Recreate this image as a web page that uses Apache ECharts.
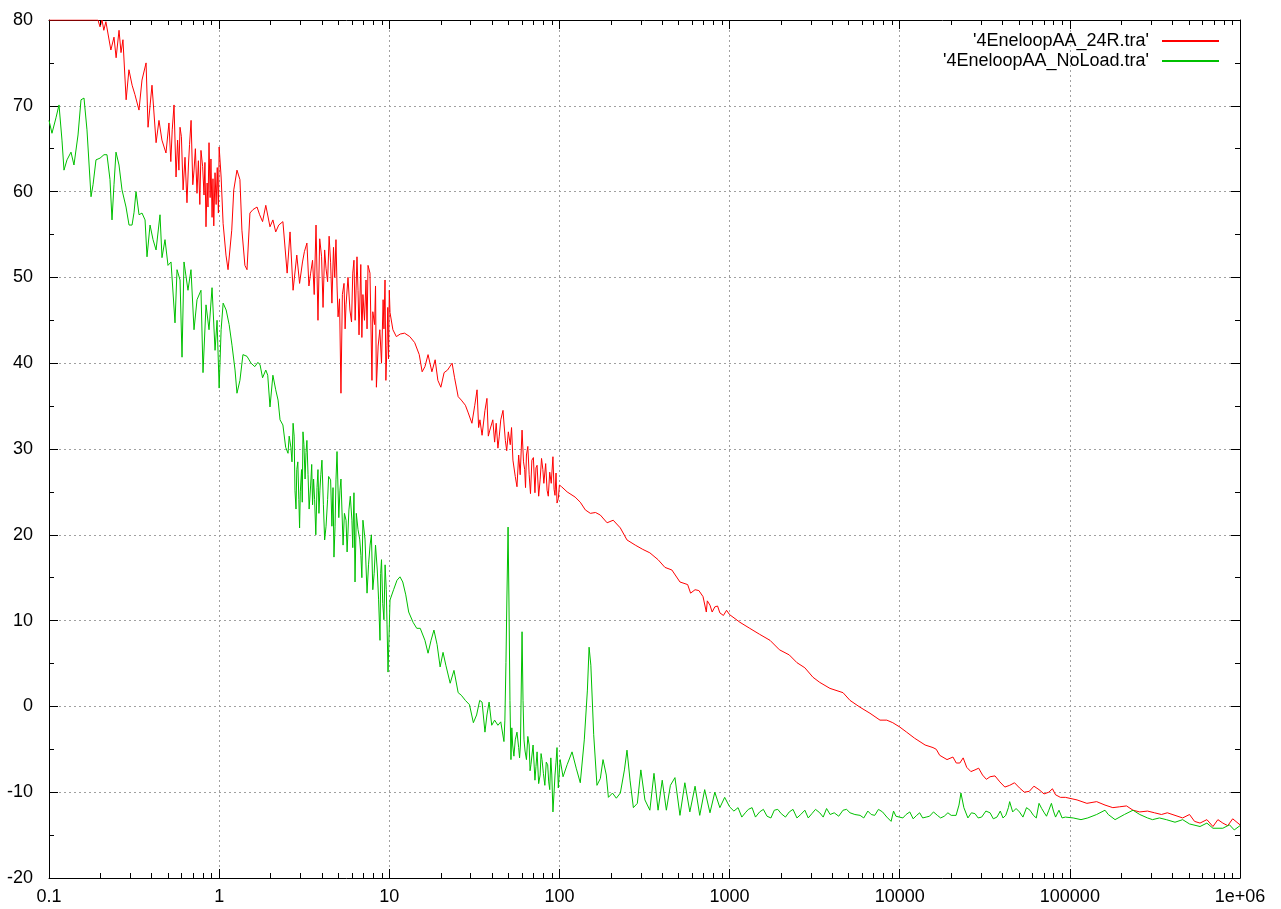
<!DOCTYPE html>
<html>
<head>
<meta charset="utf-8">
<style>
html,body{margin:0;padding:0;background:#fff;}
#chart{width:1281px;height:909px;}
</style>
<script src="https://cdn.jsdelivr.net/npm/echarts@6/dist/echarts.min.js"></script>
</head>
<body>
<div id="chart"></div>
<script>
// ---- data ----
const name24R = "'4EneloopAA_24R.tra'";
const nameNoLoad = "'4EneloopAA_NoLoad.tra'";

const freq24R = [
  0.1, 0.194, 0.1995, 0.205, 0.210, 0.216, 0.231, 0.241, 0.248, 0.258,
  0.265, 0.272, 0.284, 0.295, 0.308, 0.320, 0.338, 0.352, 0.372, 0.382,
  0.403, 0.426, 0.443, 0.461, 0.487, 0.507, 0.543, 0.558, 0.589, 0.614,
  0.647, 0.684, 0.712, 0.741, 0.782, 0.815, 0.837, 0.872, 0.909, 0.946,
  1.0, 1.027, 1.055, 1.097, 1.128, 1.186, 1.219, 1.273, 1.325, 1.361,
  1.417, 1.458, 1.517, 1.58, 1.67, 1.73, 1.80, 1.88, 1.99, 2.07,
  2.15, 2.24, 2.37, 2.51, 2.61, 2.72, 2.86, 2.97, 3.09, 3.28,
  3.45, 3.54, 3.71, 3.81, 4.0, 4.17, 4.34, 4.52, 4.70, 4.86,
  5.0, 5.20, 5.42, 5.57, 5.87, 6.20, 6.46, 6.64, 7.0, 7.3,
  7.5, 7.91, 8.2, 8.4, 8.8, 9.2, 9.44, 9.69,
  10.0, 10.1, 10.5, 11.0, 11.6, 12.3, 13.2, 14.1, 15.0, 15.6,
  16.2, 16.9, 17.8, 18.6, 19.3, 20.1, 21.0, 22.0, 23.4, 24.2,
  25.4, 26.5, 28.0, 29.0, 30.6, 31.8, 32.8, 34.1, 35.1, 36.5,
  37.5, 39.0, 40.6, 41.6, 43.5, 45.2, 46.6, 48.1, 50.1, 51.4,
  53.3, 56.3, 57.6, 60.3, 62.5, 64.0, 66.4, 68.9, 71.8, 73.9,
  77.0, 79.9, 84.6, 87.7, 91.6, 94.2, 96.8,
  100, 103, 111, 123.6, 132.6, 142, 152, 163, 174, 190.6,
  207, 228, 249.5, 279, 309, 340, 380, 417, 458, 511,
  567, 627, 698, 767, 819, 877,
  1000, 1151, 1314, 1502, 1729, 1963, 2243, 2488, 2770, 3090,
  3389, 3890, 4644, 5103, 5848, 6687, 7657, 8392, 9102,
  10000, 10980, 12216, 14100, 15690, 17180, 18970, 20550, 22560, 24760,
  27700, 30680, 33960, 38780, 44280, 50560, 57740, 65890, 75230, 82410,
  94100,
  110200, 125900, 143700, 160900, 178900, 196200, 215300, 235000, 257600, 286200,
  314300, 345300, 373900, 415000, 460200, 505000, 540500, 582100, 638800, 693400,
  741300, 792700, 847400, 905700, 1000000
];
const level24R = [
  80, 80, 79.2, 80, 78.8, 79.8, 76.5, 78.0, 75.6, 78.8,
  76.2, 77.7, 70.7, 74.2, 72.4, 71.3, 69.5, 73.0, 75.0, 67.5,
  72.4, 65.7, 68.3, 66.0, 64.5, 68.0, 70.1, 61.7, 67.5, 60.2,
  58.7, 68.3, 62.5, 59.8, 64.8, 59.6, 55.9, 65.7, 57.0, 62.2,
  65.2, 61.7, 56.3, 52.6, 50.9, 55.5, 60.2, 62.5, 61.4, 55.5,
  51.4, 50.9, 57.5, 57.9, 58.2, 57.3, 56.5, 58.4, 55.9, 56.7,
  55.3, 56.1, 56.5, 50.5, 55.3, 48.5, 52.6, 49.3, 51.8, 54.0,
  50.5, 52.0, 56.1, 45.0, 52.4, 53.2, 49.5, 51.7, 53.5, 54.4,
  45.4, 36.5, 49.3, 46.8, 46.2, 52.0, 52.4, 43.3, 48.0, 49.7,
  51.4, 38.0, 44.5, 37.2, 43.9, 47.4, 49.7, 42.1,
  48.5, 45.9, 43.9, 43.1, 43.4, 43.5, 43.1, 42.4, 41.0, 39.0,
  39.6, 41.0, 39.0, 40.4, 38.0, 37.2, 38.9, 39.2, 40.0, 38.3,
  36.1, 35.7, 35.1, 34.3, 33.0, 35.1, 36.9, 33.4, 31.6, 34.5,
  35.9, 32.2, 33.4, 30.8, 30.1, 33.4, 34.5, 31.0, 32.0, 30.5,
  28.7, 25.6, 29.3, 32.2, 27.6, 29.3, 27.0, 28.7, 24.9, 28.1,
  26.4, 27.6, 25.2, 27.3, 29.1, 24.6, 23.7,
  25.8, 25.6, 25.0, 24.4, 23.8, 22.9, 22.5, 22.6, 22.3, 21.4,
  21.7, 20.8, 19.4, 18.8, 18.3, 17.9, 17.1, 16.2, 15.9, 14.5,
  14.2, 13.6, 12.8, 11.8, 11.6, 10.9,
  10.7, 9.8, 9.1, 8.4, 7.7, 6.6, 6.0, 5.1, 4.5, 3.4,
  2.8, 2.1, 1.6, 0.7, -0.1, -0.8, -1.6, -1.6, -1.9,
  -2.4, -3.0, -3.7, -4.5, -4.8, -5.7, -6.2, -5.9, -6.6, -7.1,
  -7.4, -8.0, -8.2, -8.8, -9.2, -9.5, -9.9, -9.7, -10.0, -10.3,
  -10.6,
  -10.9, -11.3, -11.1, -11.5, -11.8, -11.7, -11.6, -12.1, -12.3, -12.2,
  -12.4, -12.6, -12.4, -12.7, -13.0, -12.6, -13.4, -13.6, -13.2, -14.0,
  -13.2, -13.6, -13.9, -13.1, -13.8
];
// further readings along the densely noisy stretches of the 24R trace
const freq24RNoise = [
  0.52, 0.53, 0.57, 0.58, 0.60, 0.63, 0.66, 0.67, 0.70, 0.725,
  0.755, 0.77, 0.80, 0.825, 0.85, 0.86, 0.885, 0.895, 0.92, 0.93,
  0.96, 0.975, 0.99,
  3.17, 3.37, 3.62, 3.9, 4.08, 4.25, 4.43, 4.6, 4.78, 4.93,
  5.1, 5.3, 5.5, 5.72, 6.0, 6.1, 6.3, 6.55, 6.8, 6.9,
  7.15, 7.4, 7.7, 8.0, 8.3, 8.6, 9.0, 9.3, 9.55, 9.8, 9.9,
  33.5, 38.2, 42.5, 44.3, 47.3, 49.0, 52.3, 55.0, 58.8, 61.5,
  63.2, 65.2, 67.6, 70.3, 72.8, 75.5, 78.5, 81.0, 83.0, 86.0,
  89.5, 93.0, 95.5, 98.5,
  590, 660, 730, 740, 790, 850, 920, 960,
  16400, 21500, 23600, 26200, 29100, 32300, 36300, 41500, 47300, 54000,
  61500, 70500, 79000, 88000
];
const level24RNoise = [
  63.5, 67.2, 66.0, 62.5, 66.4, 64.0, 63.1, 65.5, 60.8, 65.0,
  63.6, 58.5, 62.9, 63.4, 61.0, 58.2, 59.3, 63.8, 61.5, 56.0,
  58.5, 62.8, 57.5,
  53.0, 49.0, 48.0, 54.5, 46.5, 51.0, 54.8, 47.0, 50.0, 49.0,
  47.5, 48.0, 44.0, 50.0, 44.8, 50.5, 45.0, 48.5, 51.5, 43.0,
  45.0, 44.0, 50.5, 46.0, 49.0, 42.0, 40.0, 44.0, 38.0, 46.5, 40.5,
  32.5, 31.5, 33.0, 31.5, 32.8, 29.8, 32.5, 26.8, 27.0, 28.5,
  25.5, 30.3, 24.8, 29.0, 27.8, 24.5, 28.9, 26.0, 28.3, 24.5,
  26.0, 25.3, 27.2, 24.2,
  13.2, 13.5, 11.0, 12.3, 11.0, 11.7, 10.6, 11.2,
  -5.0, -6.6, -6.0, -7.6, -7.2, -8.5, -8.1, -9.4, -8.9, -10.0,
  -9.3, -10.2, -9.6, -10.6
];

const freqNoLoad = [
  0.1, 0.1041, 0.1099, 0.1145, 0.1192, 0.1225, 0.1276, 0.1347, 0.1402, 0.1481,
  0.1542, 0.1606, 0.1672, 0.1766, 0.1815, 0.1889, 0.1995, 0.2105, 0.2192, 0.2283,
  0.2346, 0.2410, 0.2476, 0.2579, 0.2686, 0.2836, 0.2954, 0.3077, 0.3162, 0.3246,
  0.3382, 0.3521, 0.3669, 0.3767, 0.3925, 0.4088, 0.4258, 0.4492, 0.4614, 0.4806,
  0.5006, 0.5214, 0.5503, 0.5656, 0.5891, 0.6051, 0.6216, 0.6559, 0.6832, 0.7117,
  0.7413, 0.7821, 0.8039, 0.8373, 0.8721, 0.9084, 0.9462, 0.9722,
  1.0, 1.027, 1.0556, 1.0995, 1.145, 1.19, 1.24, 1.273, 1.325, 1.38,
  1.458, 1.54, 1.62, 1.69, 1.74, 1.80, 1.88, 1.93, 1.99, 2.07,
  2.15, 2.22, 2.28, 2.37, 2.46, 2.54, 2.64, 2.72, 2.79, 2.86,
  2.94, 2.97, 3.05, 3.11, 3.24, 3.33, 3.45, 3.54, 3.64, 3.81,
  3.91, 4.02, 4.17, 4.34, 4.52, 4.73, 4.86, 4.93, 5.13, 5.35,
  5.57, 5.79, 6.03, 6.20, 6.29, 6.55, 6.81, 7.0, 7.40, 7.71,
  8.0, 8.3, 8.5, 8.82, 9.0, 9.3, 9.6, 9.83,
  10.1, 10.6, 11.1, 11.56, 12.0, 12.5, 13.0, 13.8, 14.5, 15.2,
  16.2, 16.9, 17.6, 18.3, 19.1, 19.9, 20.7, 21.5, 22.8, 24.0,
  25.4, 26.5, 28.0, 29.6, 31.2, 32.6, 34.0, 35.1, 36.5, 37.5,
  38.6, 40.0, 41.6, 43.5, 45.2, 47.2, 47.8, 48.5, 49.1, 49.9,
  50.5, 51.2, 51.9, 53.1, 55.0, 57.6, 59.0, 60.3, 61.1, 61.9,
  64.0, 66.4, 68.0, 71.8, 73.9, 77.0, 79.0, 82.1, 85.3, 87.7,
  90.2, 91.6, 94.2, 96.8,
  101, 105, 111, 118.6, 125.5, 132.6, 140, 146, 149.4, 153,
  159, 166.2, 174, 180.4, 188.6, 194, 205, 216, 228, 241,
  249.5, 260, 272, 287, 301, 318, 340, 359.6, 380, 402,
  425, 449, 477.5, 511, 546, 584, 627, 668, 714, 767,
  819, 877, 936,
  1000, 1122, 1237, 1356, 1502, 1660, 1832, 2012, 2243, 2488,
  2770, 3047, 3389, 3717, 4122, 4644, 5103, 5848, 6495, 7131,
  7926, 8900, 9500,
  10440, 11460, 12580, 13640, 14970, 16650, 18270, 20070, 21440, 22300,
  22900, 23830, 25160, 27700, 30310, 33960, 37280, 40450, 43520, 44280,
  46130, 50560, 55640, 61070, 65890, 70720, 75230, 77930, 82410, 94100,
  104600, 116300, 127400, 143700, 160900, 168200, 184400, 209200, 235000, 257600,
  286200, 306000, 336000, 369000, 415000, 460200, 505000, 582100, 638800, 693400,
  792700, 867000, 925000, 1000000
];
const levelNoLoad = [
  68.3, 66.8, 68.6, 70.1, 66.0, 62.5, 63.7, 64.6, 63.1, 66.6,
  70.7, 70.9, 67.2, 59.4, 60.8, 63.7, 63.9, 64.3, 64.3, 61.4,
  56.7, 60.8, 64.6, 63.1, 60.2, 58.2, 56.1, 56.1, 57.6, 60.0,
  57.3, 57.5, 56.7, 52.4, 56.1, 54.4, 53.2, 57.3, 52.3, 54.4,
  51.4, 51.8, 44.7, 50.9, 49.7, 40.7, 51.8, 48.5, 50.9, 43.9,
  47.4, 48.5, 38.9, 46.8, 43.9, 48.8, 41.5, 45.0,
  37.1, 43.9, 47.0, 46.2, 44.5, 42.1, 39.2, 36.5, 38.0, 41.0,
  40.8, 40.0, 39.6, 40.1, 39.8, 38.3, 39.2, 38.6, 34.9, 38.6,
  36.9, 35.7, 33.4, 32.8, 30.2, 29.5, 30.2, 33.0, 25.2, 27.6,
  24.1, 20.8, 27.6, 32.0, 29.6, 27.0, 25.8, 23.5, 24.1, 27.6,
  25.2, 28.7, 19.4, 24.1, 26.4, 17.4, 26.4, 29.7, 25.2, 18.8,
  21.7, 22.9, 21.7, 24.9, 14.5, 20.6, 17.6, 21.7, 13.2, 18.8,
  13.6, 18.8, 15.9, 7.7, 17.1, 10.1, 13.6, 4.0,
  12.4, 13.6, 14.7, 15.1, 14.5, 13.0, 11.0, 9.8, 9.1, 9.1,
  7.7, 6.2, 7.7, 8.9, 7.2, 4.6, 6.3, 4.8, 2.7, 4.2,
  1.6, 1.3, 0.7, 0.2, -1.9, -1.0, 0.7, 0.5, -3.0, -1.0,
  0.5, -2.2, -1.6, -2.2, -1.8, -4.1, -1.6, 5.1, 12.4, 20.9,
  12.4, 0.7, -6.2, -4.5, -3.9, -4.8, -4.5, 8.7, 0.7, -3.9,
  -6.2, -4.5, -6.8, -8.6, -5.3, -8.0, -6.2, -9.2, -6.8, -9.7,
  -8.0, -12.3, -8.0, -4.8,
  -6.2, -8.2, -6.8, -5.3, -7.2, -8.9, -3.9, 1.9, 6.9, 4.8,
  -3.3, -9.2, -8.4, -6.2, -8.0, -10.6, -10.1, -10.7, -10.1, -7.4,
  -5.1, -8.6, -11.8, -11.3, -7.4, -10.9, -12.1, -7.8, -12.1, -8.6,
  -12.1, -9.2, -8.3, -12.7, -8.9, -12.3, -9.3, -12.7, -9.7, -12.4,
  -10.0, -11.8, -10.6,
  -11.7, -11.8, -12.4, -11.8, -12.3, -12.8, -12.1, -12.5, -12.3, -13.0,
  -12.1, -12.5, -12.4, -11.9, -12.4, -12.1, -12.4, -12.7, -12.2, -12.7,
  -12.3, -13.4, -12.8,
  -13.0, -12.3, -12.7, -13.0, -12.8, -12.7, -12.8, -12.7, -12.7, -11.5,
  -10.1, -11.8, -13.0, -12.5, -12.9, -12.4, -12.9, -13.0, -11.8, -11.1,
  -12.3, -12.3, -11.8, -12.7, -11.3, -12.4, -12.1, -11.3, -12.9, -12.9,
  -13.0, -13.2, -13.0, -12.6, -12.1, -12.6, -13.2, -12.6, -12.1, -12.6,
  -13.0, -13.2, -13.0, -13.2, -13.5, -13.2, -13.7, -14.0, -13.6, -14.2,
  -14.2, -13.8, -14.4, -13.9
];
// further readings along the densely noisy stretches of the NoLoad trace
const freqNoLoadNoise = [
  2.58, 2.68, 2.76, 2.83, 2.9, 3.0, 3.08, 3.15, 3.2, 3.28,
  3.38, 3.5, 3.59, 3.7, 3.76, 3.86, 3.96, 4.1, 4.25, 4.4,
  4.6, 4.67, 4.8, 5.05, 5.2, 5.45, 5.65, 5.9, 6.1, 6.4,
  6.7, 6.9, 7.2, 7.55, 7.85, 8.15, 8.4, 8.65, 8.9, 9.15, 9.45, 9.7,
  52.5, 54, 56.3, 58.3, 62.8, 65.2, 67.2, 70, 72.8, 75.5,
  78, 80.5, 83.7, 86.5, 89, 93, 95.5, 98.5,
  1060, 1180, 1290, 1420, 1580, 1750, 1920, 2130, 2360, 2620,
  2900, 3200, 3550, 3900, 4380, 4870, 5450, 6150, 6800, 7500, 8400, 9200,
  10900, 12000, 13100, 14300, 15800, 17400, 19200, 26400, 28900, 32100,
  35500, 39000, 42000, 48300, 53000, 58300, 63500, 68300, 72900, 80100,
  86300, 90000
];
const levelNoLoadNoise = [
  31.5, 28.5, 31.5, 23.0, 28.5, 25.0, 23.8, 30.5, 26.5, 31.0,
  23.0, 28.2, 26.5, 20.0, 25.5, 22.5, 27.0, 23.5, 21.0, 26.8,
  21.0, 25.5, 21.0, 22.0, 26.5, 22.5, 18.0, 24.5, 18.5, 22.5,
  19.5, 15.0, 19.5, 16.5, 20.0, 15.5, 19.0, 12.5, 15.5, 12.0, 16.5, 9.5,
  -2.5, -5.8, -3.0, -6.0, -5.2, -3.5, -7.5, -4.5, -7.0, -9.0,
  -5.5, -7.8, -6.5, -8.8, -6.0, -10.0, -6.5, -9.5,
  -12.2, -12.9, -12.0, -12.9, -12.0, -13.0, -12.0, -12.9, -12.0, -12.6,
  -13.0, -12.0, -12.9, -12.6, -12.8, -12.0, -12.6, -13.0, -12.6, -12.0, -12.9, -12.2,
  -12.6, -13.1, -12.4, -12.9, -12.3, -13.0, -12.4, -12.4, -13.0, -12.2,
  -13.1, -12.2, -12.7, -11.9, -12.9, -12.1, -13.0, -11.9, -12.8, -12.2,
  -12.1, -13.0
];

const xTickLabels = ['0.1', '1', '10', '100', '1000', '10000', '100000', '1e+06'];
const xMin = 0.1, xMax = 1e6;
const yMin = -20, yMax = 80, yStep = 10;
const minorMultipliers = [2, 3, 4, 5, 6, 7, 8, 9];

// ---- build ----
function pairs(fs, ls, fs2, ls2) {
  const out = fs.map((f, i) => [f, ls[i]]).concat(fs2.map((f, i) => [f, ls2[i]]));
  out.sort((a, b) => a[0] - b[0]);
  return out;
}
const data24R = pairs(freq24R, level24R, freq24RNoise, level24RNoise);
const dataNoLoad = pairs(freqNoLoad, levelNoLoad, freqNoLoadNoise, levelNoLoadNoise);
const minorTicks = [];
for (let e = -1; e < 6; e++) {
  minorMultipliers.forEach(m => minorTicks.push([m * Math.pow(10, e), yMin]));
}

const FONT = 'Liberation Sans, Arial, sans-serif';
const FS = 18;
const tickColor = '#000';

const legendBase = {
  orient: 'vertical', align: 'right', right: 61, padding: 0,
  itemWidth: 57, itemHeight: 14, selectedMode: false,
  itemStyle: {opacity: 0},
  textStyle: {fontFamily: FONT, fontSize: FS, color: '#000', padding: [0, 8, 0, 0]}
};

const chart = echarts.init(document.getElementById('chart'), null, {renderer: 'canvas'});
chart.setOption({
  animation: false,
  backgroundColor: '#fff',
  grid: {left: 49, right: 41, top: 20, bottom: 31, containLabel: false},
  legend: [
    Object.assign({}, legendBase, {data: [name24R], top: 32}),
    Object.assign({}, legendBase, {data: [nameNoLoad], top: 52})
  ],
  xAxis: [
    {
      type: 'log', logBase: 10, min: xMin, max: xMax, splitNumber: 7, position: 'bottom',
      axisLine: {show: true, onZero: false, lineStyle: {color: tickColor, width: 1}},
      axisTick: {show: true, inside: true, length: 9, lineStyle: {color: tickColor}},
      axisLabel: {
        show: true, margin: 10, color: '#000', fontFamily: FONT, fontSize: FS,
        showMinLabel: true, showMaxLabel: true,
        formatter: v => xTickLabels[Math.round(Math.log10(v)) + 1] || ''
      },
      splitLine: {show: true, lineStyle: {color: '#a0a0a0', width: 1, type: [2, 3]}}
    },
    {
      type: 'log', logBase: 10, min: xMin, max: xMax, splitNumber: 7, position: 'top',
      axisLine: {show: true, onZero: false, lineStyle: {color: tickColor, width: 1}},
      axisTick: {show: true, inside: true, length: 9, lineStyle: {color: tickColor}},
      axisLabel: {show: false},
      splitLine: {show: false}
    }
  ],
  yAxis: [
    {
      type: 'value', min: yMin, max: yMax, interval: yStep, position: 'left',
      axisLine: {show: true, onZero: false, lineStyle: {color: tickColor, width: 1}},
      axisTick: {show: true, inside: true, length: 9, lineStyle: {color: tickColor}},
      minorTick: {show: true, splitNumber: 2, length: 5, lineStyle: {color: tickColor}},
      axisLabel: {show: true, margin: 16, color: '#000', fontFamily: FONT, fontSize: FS},
      splitLine: {show: true, lineStyle: {color: '#a0a0a0', width: 1, type: [2, 3]}}
    },
    {
      type: 'value', min: yMin, max: yMax, interval: yStep, position: 'right',
      axisLine: {show: true, onZero: false, lineStyle: {color: tickColor, width: 1}},
      axisTick: {show: true, inside: true, length: 9, lineStyle: {color: tickColor}},
      minorTick: {show: true, splitNumber: 2, length: 5, lineStyle: {color: tickColor}},
      axisLabel: {show: false},
      splitLine: {show: false}
    }
  ],
  series: [
    {
      name: name24R, type: 'line', data: data24R, xAxisIndex: 0, yAxisIndex: 0,
      symbol: 'none', showSymbol: false, clip: true, z: 3,
      lineStyle: {color: '#ff0000', width: 1}, itemStyle: {color: '#ff0000'}
    },
    {
      name: nameNoLoad, type: 'line', data: dataNoLoad, xAxisIndex: 0, yAxisIndex: 0,
      symbol: 'none', showSymbol: false, clip: true, z: 3,
      lineStyle: {color: '#00c000', width: 1}, itemStyle: {color: '#00c000'}
    },
    {
      name: 'minorTicks', type: 'custom', data: minorTicks, xAxisIndex: 0, yAxisIndex: 0,
      silent: true, clip: false, z: 5,
      renderItem: (params, api) => {
        const pb = api.coord([api.value(0), yMin]);
        const pt = api.coord([api.value(0), yMax]);
        const x = Math.round(pb[0]) + 0.5;
        const st = {stroke: tickColor, lineWidth: 1};
        return {
          type: 'group',
          children: [
            {type: 'line', shape: {x1: x, y1: pb[1], x2: x, y2: pb[1] - 5}, style: st},
            {type: 'line', shape: {x1: x, y1: pt[1], x2: x, y2: pt[1] + 5}, style: st}
          ]
        };
      }
    }
  ]
});
</script>
</body>
</html>
